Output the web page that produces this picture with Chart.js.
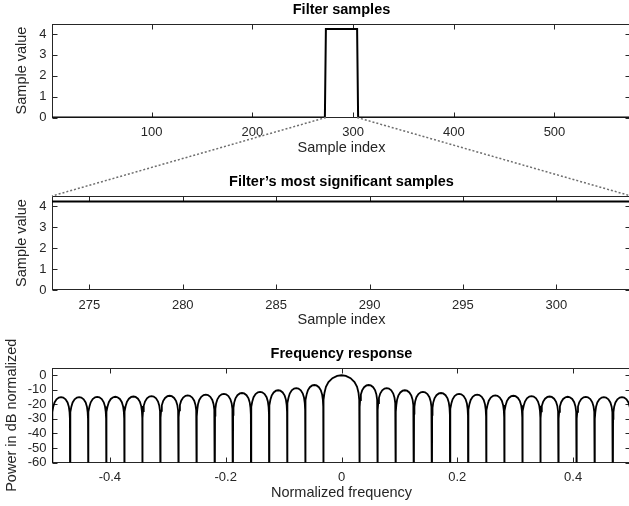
<!DOCTYPE html>
<html>
<head>
<meta charset="utf-8">
<script src="https://cdn.jsdelivr.net/npm/chart.js@4.4.1/dist/chart.umd.min.js"></script>
<style>
  html, body { margin: 0; padding: 0; background: #fff; overflow: hidden; }
  #page { position: relative; width: 629px; height: 506px; overflow: hidden; }
  #page canvas { position: absolute; left: 0; }
</style>
</head>
<body>
<div id="page">
  <canvas id="c1" width="632" height="165" style="top:0px"></canvas>
  <canvas id="c2" width="632" height="170" style="top:165px"></canvas>
  <canvas id="c3" width="632" height="171" style="top:335px"></canvas>
  <canvas id="overlay" width="629" height="506" style="top:0px"></canvas>
</div>
<script>
// top panel: the whole filter
var sampleIndex = [1, 272, 273, 304, 305, 576];
var sampleValue = [0, 0, 4.24, 4.24, 0, 0];
var sampleTicks = [100, 200, 300, 400, 500];
var valueTicks = [0, 1, 2, 3, 4];

// middle panel: the non-zero samples only
var zoomIndex = [273, 274, 275, 276, 277, 278, 279, 280, 281, 282, 283, 284, 285, 286, 287, 288,
                 289, 290, 291, 292, 293, 294, 295, 296, 297, 298, 299, 300, 301, 302, 303, 304];
var zoomValue = [4.24, 4.24, 4.24, 4.24, 4.24, 4.24, 4.24, 4.24, 4.24, 4.24, 4.24, 4.24, 4.24, 4.24, 4.24, 4.24,
                 4.24, 4.24, 4.24, 4.24, 4.24, 4.24, 4.24, 4.24, 4.24, 4.24, 4.24, 4.24, 4.24, 4.24, 4.24, 4.24];
var zoomTicks = [275, 280, 285, 290, 295, 300];

// bottom panel: frequency response, one arch per lobe between two nulls
var lobeEdges = [-0.5, -0.46875, -0.4375, -0.40625, -0.375, -0.34375, -0.3125, -0.28125, -0.25,
                 -0.21875, -0.1875, -0.15625, -0.125, -0.09375, -0.0625, -0.03125,
                 0.03125, 0.0625, 0.09375, 0.125, 0.15625, 0.1875, 0.21875, 0.25,
                 0.28125, 0.3125, 0.34375, 0.375, 0.40625, 0.4375, 0.46875, 0.5];
var lobePeakDb = [-15.0, -15.0, -14.9, -14.8, -14.6, -14.4, -14.1, -13.8, -13.3, -12.8, -12.2, -11.4, -10.3, -8.9, -6.7,
                  0,
                  -6.7, -8.9, -10.3, -11.4, -12.2, -12.8, -13.3, -13.8, -14.1, -14.4, -14.6, -14.8, -14.9, -15.0, -15.0];
var lobeShapeT = [0, 0.01, 0.03, 0.07, 0.14, 0.25, 0.38, 0.5, 0.62, 0.75, 0.86, 0.93, 0.97, 0.99, 1];
var sideLobeShapeDb = [-80, -15, -10.3, -6.6, -3.7, -1.5, -0.3, 0, -0.3, -1.5, -3.7, -6.6, -10.3, -15, -80];
var mainLobeShapeDb = [-80, -16.9, -12, -8, -4.7, -2, -0.4, 0, -0.4, -2, -4.7, -8, -12, -16.9, -80];
var freqTicks = [-0.4, -0.2, 0, 0.2, 0.4];
var dbTicks = [0, -10, -20, -30, -40, -50, -60];

var FONT = "'Liberation Sans', Arial, Helvetica, sans-serif";
var AXIS = '#262626';
Chart.defaults.font.family = FONT;

function toPoints(xs, ys) {
    var pts = [];
    for (var i = 0; i < xs.length; i++) pts.push({x: xs[i], y: ys[i]});
    return pts;
}

var freqPoints = [];
for (var k = 0; k < lobePeakDb.length; k++) {
    var a = lobeEdges[k], b = lobeEdges[k + 1];
    var shape = lobePeakDb[k] === 0 ? mainLobeShapeDb : sideLobeShapeDb;
    for (var j = 0; j < lobeShapeT.length; j++) {
        freqPoints.push({x: a + (b - a) * lobeShapeT[j], y: lobePeakDb[k] + shape[j]});
    }
}

// matlab style box with inward ticks on all four sides
var boxPlugin = {
    id: 'box',
    beforeDatasetsDraw: function (chart) {
        var ctx = chart.ctx, a = chart.chartArea;
        var x = chart.scales.x, y = chart.scales.y;
        var L = Math.round(a.left) + 0.5, R = Math.round(a.right) - 0.5;
        var T = Math.round(a.top) + 0.5, B = Math.round(a.bottom) - 0.5;
        ctx.save();
        ctx.strokeStyle = AXIS;
        ctx.lineWidth = 1;
        ctx.strokeRect(L, T, R - L, B - T);
        ctx.beginPath();
        x.ticks.forEach(function (t) {
            var px = Math.round(x.getPixelForValue(t.value)) + 0.5;
            ctx.moveTo(px, B); ctx.lineTo(px, B - 5);
            ctx.moveTo(px, T); ctx.lineTo(px, T + 5);
        });
        y.ticks.forEach(function (t) {
            var py = Math.round(y.getPixelForValue(t.value)) + 0.5;
            ctx.moveTo(L, py); ctx.lineTo(L + 5, py);
            ctx.moveTo(R, py); ctx.lineTo(R - 5, py);
        });
        ctx.stroke();
        ctx.restore();
    }
};

function makePanel(id, p, data, lineWidth) {
    var lh = 14.5 * 1.2;
    var titlePadTop = p.titleY - p.top - lh / 2;
    var titlePadBottom = p.plotTop - p.top - titlePadTop - lh;
    var xHeight = p.top + p.height - p.plotBottom;
    var xTitlePadBottom = xHeight - 30 - lh / 2;
    return new Chart(document.getElementById(id), {
        type: 'line',
        data: {
            datasets: [{
                data: data,
                borderColor: '#000',
                borderWidth: lineWidth,
                pointRadius: 0,
                tension: 0,
                fill: false
            }]
        },
        options: {
            responsive: false,
            animation: false,
            layout: {padding: {left: 0, right: 1, top: 0, bottom: 0}},
            plugins: {
                legend: {display: false},
                tooltip: {enabled: false},
                title: {
                    display: true,
                    fullSize: false,
                    text: p.title,
                    color: '#000',
                    font: {size: 14.5, weight: 'bold'},
                    padding: {top: titlePadTop, bottom: titlePadBottom}
                }
            },
            scales: {
                x: {
                    type: 'linear',
                    min: p.xMin, max: p.xMax,
                    grid: {display: false, drawTicks: false},
                    border: {display: false},
                    afterBuildTicks: function (s) { s.ticks = p.xTicks.map(function (v) { return {value: v}; }); },
                    afterFit: function (s) { s.height = xHeight; },
                    ticks: {color: AXIS, font: {size: 13}, padding: 7.5, maxRotation: 0, autoSkip: false,
                            callback: function (v) { return String(v); }},
                    title: {display: true, text: p.xTitle, color: AXIS, font: {size: 14.5},
                            padding: {top: 0, bottom: xTitlePadBottom}}
                },
                y: {
                    type: 'linear',
                    min: p.yMin, max: p.yMax,
                    grid: {display: false, drawTicks: false},
                    border: {display: false},
                    afterBuildTicks: function (s) { s.ticks = p.yTicks.map(function (v) { return {value: v}; }); },
                    afterFit: function (s) { s.width = 52; },
                    ticks: {color: AXIS, font: {size: 13, lineHeight: 1}, padding: 5.5, autoSkip: false,
                            callback: function (v) { return String(v); }},
                    title: {display: true, text: p.yTitle, color: AXIS, font: {size: 14.5},
                            padding: {top: p.yTitleX - lh / 2, bottom: 0}}
                }
            }
        },
        plugins: [boxPlugin]
    });
}

var chart1 = makePanel('c1', {
    top: 0, height: 165, plotTop: 23.5, plotBottom: 117.5, titleY: 9.5,
    xMin: 1, xMax: 576, yMin: 0, yMax: 4.5, xTicks: sampleTicks, yTicks: valueTicks,
    title: 'Filter samples', xTitle: 'Sample index', yTitle: 'Sample value', yTitleX: 22
}, toPoints(sampleIndex, sampleValue), 2);

var chart2 = makePanel('c2', {
    top: 165, height: 170, plotTop: 196, plotBottom: 290, titleY: 182,
    xMin: 273, xMax: 304, yMin: 0, yMax: 4.5, xTicks: zoomTicks, yTicks: valueTicks,
    title: 'Filter\u2019s most significant samples', xTitle: 'Sample index', yTitle: 'Sample value', yTitleX: 22
}, toPoints(zoomIndex, zoomValue), 2);

var chart3 = makePanel('c3', {
    top: 335, height: 171, plotTop: 368, plotBottom: 462.5, titleY: 354,
    xMin: -0.5, xMax: 0.5, yMin: -60, yMax: 5, xTicks: freqTicks, yTicks: dbTicks,
    title: 'Frequency response', xTitle: 'Normalized frequency', yTitle: 'Power in dB normalized', yTitleX: 12
}, freqPoints, 1.8);

// dotted lines linking the pulse in the top panel to the zoomed panel
var ov = document.getElementById('overlay').getContext('2d');
ov.save();
ov.strokeStyle = '#6e6e6e';
ov.lineWidth = 1.5;
ov.setLineDash([2, 2]);
[zoomIndex[0], zoomIndex[zoomIndex.length - 1]].forEach(function (v) {
    ov.beginPath();
    ov.moveTo(chart1.scales.x.getPixelForValue(v), chart1.scales.y.getPixelForValue(0));
    ov.lineTo(chart2.scales.x.getPixelForValue(v), 165 + chart2.scales.y.getPixelForValue(4.5));
    ov.stroke();
});
ov.restore();
</script>
</body>
</html>
